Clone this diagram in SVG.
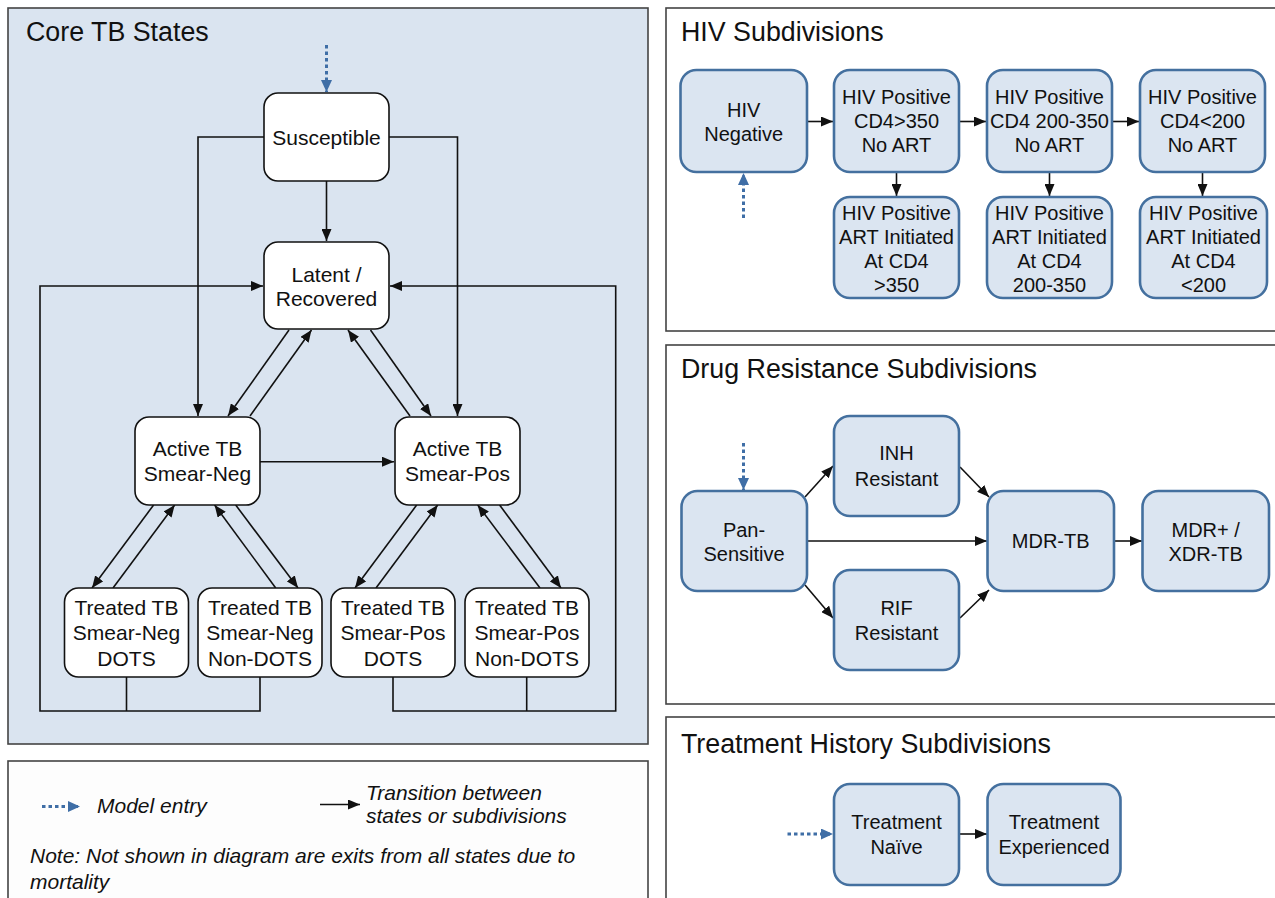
<svg xmlns="http://www.w3.org/2000/svg" width="1275" height="898" viewBox="0 0 1275 898">
<defs>
<style>
.panel{stroke:#444;stroke-width:1.6}
.title{font-family:"Liberation Sans",Arial,sans-serif;font-size:26.8px;fill:#111}
.wn{fill:#fff;stroke:#111;stroke-width:1.6}
.bn{fill:#dbe5f1;stroke:#44709f;stroke-width:2.6}
.t{font-family:"Liberation Sans",Arial,sans-serif;font-size:20px;fill:#111;text-anchor:middle}
.tc{font-size:21px}
.lg{font-family:"Liberation Sans",Arial,sans-serif;font-size:21px;font-style:italic;fill:#111}
.c{fill:none;stroke:#111;stroke-width:1.6;marker-end:url(#ah)}
.cn{fill:none;stroke:#111;stroke-width:1.6}
.d{fill:none;stroke:#3f6ea6;stroke-width:3;stroke-dasharray:3.5 3;marker-end:url(#bh)}
</style>
<marker id="ah" markerUnits="userSpaceOnUse" markerWidth="12" markerHeight="10" refX="12" refY="5" orient="auto"><path d="M0,0 L12,5 L0,10 z" fill="#111"/></marker>
<marker id="bh" markerUnits="userSpaceOnUse" markerWidth="12" markerHeight="11" refX="12" refY="5.5" orient="auto"><path d="M0,0 L12,5.5 L0,11 z" fill="#3f6ea6"/></marker>
</defs>
<rect width="1275" height="898" fill="#fff"/>

<!-- Panels -->
<g id="panel-core">
<rect class="panel" x="8" y="8" width="640" height="736" fill="#dae4f0"/>
<text class="title" x="26" y="41">Core TB States</text>
</g>
<g id="panel-legend">
<rect class="panel" x="8" y="761" width="640" height="160" fill="#fdfdfd"/>
</g>
<g id="panel-hiv">
<rect class="panel" x="666" y="8" width="630" height="323" fill="#fff"/>
<text class="title" x="681" y="41">HIV Subdivisions</text>
</g>
<g id="panel-drug">
<rect class="panel" x="666" y="345" width="630" height="359" fill="#fff"/>
<text class="title" x="681" y="378">Drug Resistance Subdivisions</text>
</g>
<g id="panel-treat">
<rect class="panel" x="666" y="717" width="630" height="200" fill="#fff"/>
<text class="title" x="681" y="753">Treatment History Subdivisions</text>
</g>

<!-- Connectors -->
<g id="connectors">
<path class="d" d="M326.5,45 V92"/>
<path class="c" d="M264,137 H198 V416"/>
<path class="c" d="M389,137 H457.5 V416"/>
<path class="c" d="M326.5,181 V241"/>
<path class="c" d="M260,677 V711 H40 V286 H263"/>
<path class="cn" d="M126.5,677 V711"/>
<path class="c" d="M393,677 V711 H615.7 V286 H390"/>
<path class="cn" d="M526.7,677 V711"/>
<path class="c" d="M260,461.7 H394"/>
<path class="c" d="M289,330 L228,416"/>
<path class="c" d="M250,416 L311.5,330"/>
<path class="c" d="M410,416 L348,330"/>
<path class="c" d="M370.5,330 L431,416"/>
<path class="c" d="M153.6,505 L92,588"/>
<path class="c" d="M113,588 L174.7,505"/>
<path class="c" d="M235.7,505 L298,588"/>
<path class="c" d="M275.7,588 L214.6,505"/>
<path class="c" d="M416.7,505 L355,588"/>
<path class="c" d="M376,588 L437.7,505"/>
<path class="c" d="M499.6,505 L561,588"/>
<path class="c" d="M540,588 L477.7,505"/>

<path class="d" d="M743.5,218 V173"/>
<path class="c" d="M807,121.5 H833"/>
<path class="c" d="M959,121.5 H986"/>
<path class="c" d="M1112,121.5 H1139"/>
<path class="c" d="M896.5,172 V196"/>
<path class="c" d="M1049.5,172 V196"/>
<path class="c" d="M1202.5,172 V196"/>

<path class="d" d="M743.5,443 V490"/>
<path class="c" d="M805,497 L833,466"/>
<path class="c" d="M805,585 L833,618"/>
<path class="c" d="M960,467 L989,497"/>
<path class="c" d="M960,618 L989,590"/>
<path class="c" d="M807,541 H987"/>
<path class="c" d="M1114,541 H1142"/>

<path class="d" d="M787.5,834 H833"/>
<path class="c" d="M959,834 H987"/>

<path class="d" d="M42,806.5 H80"/>
<path class="c" d="M320,804.5 H360"/>
</g>

<!-- Core nodes -->
<g id="susceptible"><rect class="wn" x="264" y="93" width="125" height="88" rx="14"/><text class="t tc" x="326.5" y="144.5">Susceptible</text></g>
<g id="latent"><rect class="wn" x="264" y="242" width="125" height="87" rx="14"/><text class="t tc" x="326.5" y="282">Latent /</text><text class="t tc" x="326.5" y="306">Recovered</text></g>
<g id="active-neg"><rect class="wn" x="135" y="417" width="125" height="88" rx="14"/><text class="t tc" x="197.5" y="456">Active TB</text><text class="t tc" x="197.5" y="481">Smear-Neg</text></g>
<g id="active-pos"><rect class="wn" x="395" y="417" width="125" height="88" rx="14"/><text class="t tc" x="457.5" y="456">Active TB</text><text class="t tc" x="457.5" y="481">Smear-Pos</text></g>
<g id="treated-neg-dots"><rect class="wn" x="64.5" y="588" width="124" height="89" rx="14"/><text class="t tc" x="126.5" y="614.5">Treated TB</text><text class="t tc" x="126.5" y="640">Smear-Neg</text><text class="t tc" x="126.5" y="665.5">DOTS</text></g>
<g id="treated-neg-nondots"><rect class="wn" x="198" y="588" width="124" height="89" rx="14"/><text class="t tc" x="260" y="614.5">Treated TB</text><text class="t tc" x="260" y="640">Smear-Neg</text><text class="t tc" x="260" y="665.5">Non-DOTS</text></g>
<g id="treated-pos-dots"><rect class="wn" x="331" y="588" width="124" height="89" rx="14"/><text class="t tc" x="393" y="614.5">Treated TB</text><text class="t tc" x="393" y="640">Smear-Pos</text><text class="t tc" x="393" y="665.5">DOTS</text></g>
<g id="treated-pos-nondots"><rect class="wn" x="465" y="588" width="124" height="89" rx="14"/><text class="t tc" x="527" y="614.5">Treated TB</text><text class="t tc" x="527" y="640">Smear-Pos</text><text class="t tc" x="527" y="665.5">Non-DOTS</text></g>

<!-- HIV nodes -->
<g id="hiv-neg"><rect class="bn" x="680.5" y="70" width="126.5" height="102" rx="16"/><text class="t" x="743.7" y="117">HIV</text><text class="t" x="743.7" y="141">Negative</text></g>
<g id="hiv-350"><rect class="bn" x="834" y="70" width="125" height="102" rx="16"/><text class="t" x="896.5" y="104">HIV Positive</text><text class="t" x="896.5" y="128">CD4&gt;350</text><text class="t" x="896.5" y="152">No ART</text></g>
<g id="hiv-200-350"><rect class="bn" x="987" y="70" width="125" height="102" rx="16"/><text class="t" x="1049.5" y="104">HIV Positive</text><text class="t" x="1049.5" y="128">CD4 200-350</text><text class="t" x="1049.5" y="152">No ART</text></g>
<g id="hiv-200"><rect class="bn" x="1140" y="70" width="125" height="102" rx="16"/><text class="t" x="1202.5" y="104">HIV Positive</text><text class="t" x="1202.5" y="128">CD4&lt;200</text><text class="t" x="1202.5" y="152">No ART</text></g>
<g id="hiv-art-350"><rect class="bn" x="834" y="197" width="125" height="101" rx="16"/><text class="t" x="896.5" y="220">HIV Positive</text><text class="t" x="896.5" y="244">ART Initiated</text><text class="t" x="896.5" y="268">At CD4</text><text class="t" x="896.5" y="292">&gt;350</text></g>
<g id="hiv-art-200-350"><rect class="bn" x="987" y="197" width="125" height="101" rx="16"/><text class="t" x="1049.5" y="220">HIV Positive</text><text class="t" x="1049.5" y="244">ART Initiated</text><text class="t" x="1049.5" y="268">At CD4</text><text class="t" x="1049.5" y="292">200-350</text></g>
<g id="hiv-art-200"><rect class="bn" x="1140" y="197" width="127" height="101" rx="16"/><text class="t" x="1203.5" y="220">HIV Positive</text><text class="t" x="1203.5" y="244">ART Initiated</text><text class="t" x="1203.5" y="268">At CD4</text><text class="t" x="1203.5" y="292">&lt;200</text></g>

<!-- Drug resistance nodes -->
<g id="pan-sensitive"><rect class="bn" x="681.5" y="491" width="125.5" height="100" rx="16"/><text class="t" x="744" y="537">Pan-</text><text class="t" x="744" y="561">Sensitive</text></g>
<g id="inh"><rect class="bn" x="834" y="416" width="125" height="100" rx="16"/><text class="t" x="896.5" y="460">INH</text><text class="t" x="896.5" y="486">Resistant</text></g>
<g id="rif"><rect class="bn" x="834" y="570" width="125" height="100" rx="16"/><text class="t" x="896.5" y="615">RIF</text><text class="t" x="896.5" y="640">Resistant</text></g>
<g id="mdr"><rect class="bn" x="987.5" y="491" width="126.5" height="100" rx="16"/><text class="t" x="1050.7" y="548">MDR-TB</text></g>
<g id="xdr"><rect class="bn" x="1142.5" y="491" width="126.5" height="100" rx="16"/><text class="t" x="1205.7" y="537">MDR+ /</text><text class="t" x="1205.7" y="561">XDR-TB</text></g>

<!-- Treatment history nodes -->
<g id="naive"><rect class="bn" x="834" y="784" width="125" height="101" rx="16"/><text class="t" x="896.5" y="829">Treatment</text><text class="t" x="896.5" y="854">Naïve</text></g>
<g id="experienced"><rect class="bn" x="987.5" y="784" width="133" height="101" rx="16"/><text class="t" x="1054" y="829">Treatment</text><text class="t" x="1054" y="854">Experienced</text></g>

<!-- Legend -->
<g id="legend">
<text class="lg" x="97" y="813">Model entry</text>
<text class="lg" x="366" y="800">Transition between</text>
<text class="lg" x="366" y="823">states or subdivisions</text>
<text class="lg" x="30" y="863">Note: Not shown in diagram are exits from all states due to</text>
<text class="lg" x="30" y="889">mortality</text>
</g>
</svg>
